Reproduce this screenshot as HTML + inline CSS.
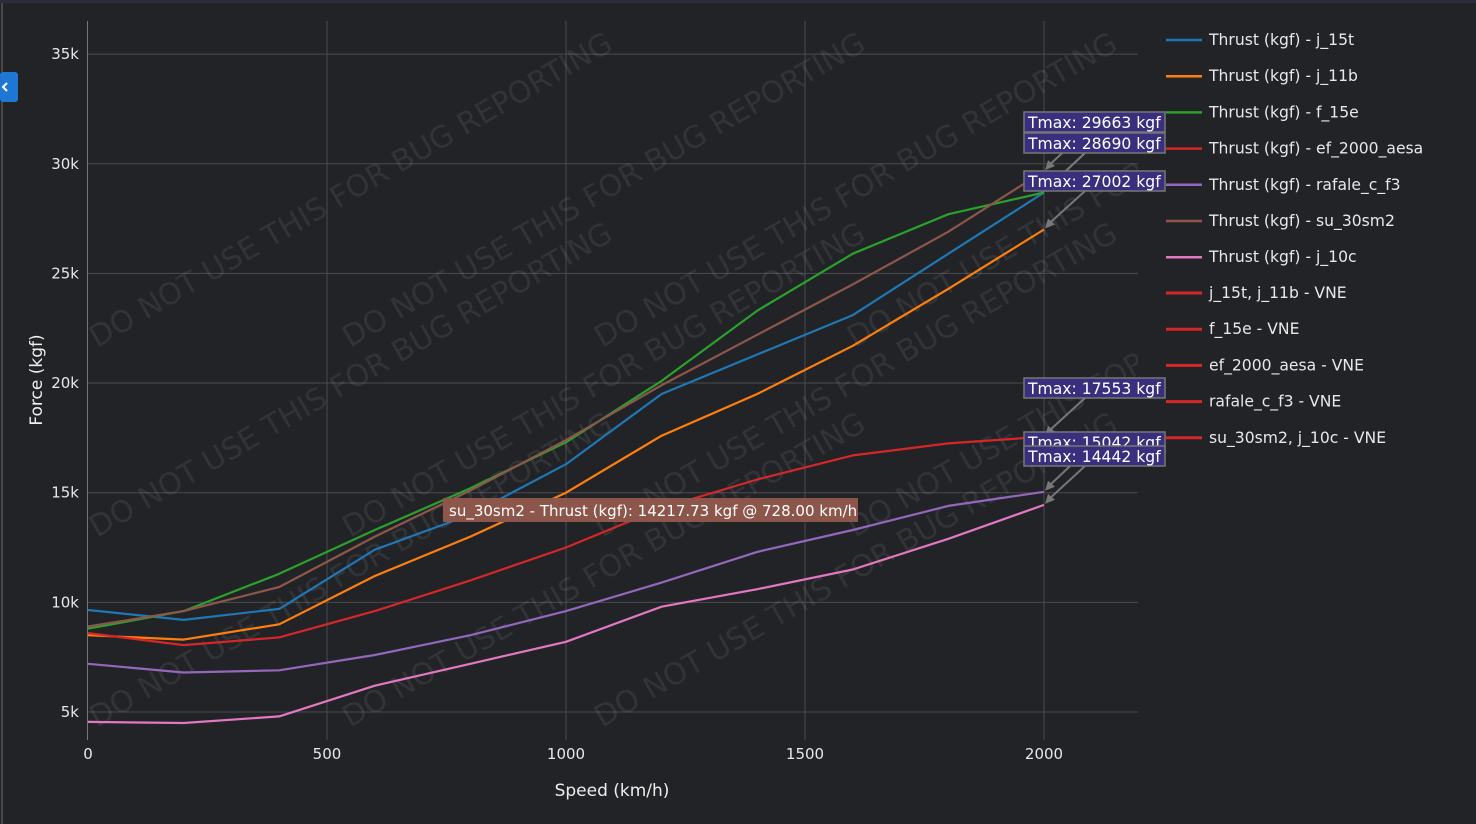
<!DOCTYPE html>
<html><head><meta charset="utf-8"><style>
html,body{margin:0;padding:0;background:#222327;width:1476px;height:824px;overflow:hidden}
svg{display:block}
text{font-family:"DejaVu Sans","Liberation Sans",sans-serif}
</style></head><body>
<svg id="s" width="1476" height="824" xmlns="http://www.w3.org/2000/svg">
<defs><clipPath id="cp"><rect x="88" y="21" width="1050" height="719"/></clipPath></defs>
<rect width="1476" height="824" fill="#222327"/>
<rect width="1476" height="3" fill="#2b2e38"/>
<line x1="2" y1="3" x2="2" y2="824" stroke="#555" stroke-width="1.5"/>
<g id="grid" stroke="#4a4b4f" stroke-width="1"></g>
<g id="wm" fill="rgba(255,255,255,0.075)" font-size="30" clip-path="url(#cp)"></g>
<line x1="87.5" y1="21" x2="87.5" y2="740" stroke="#777" stroke-width="1"/>
<g id="yt" fill="#e8e8e8" font-size="15" text-anchor="end"></g>
<g id="xt" fill="#e8e8e8" font-size="15" text-anchor="middle"></g>
<text x="612" y="796" fill="#eee" font-size="17" text-anchor="middle">Speed (km/h)</text>
<text transform="translate(42,380) rotate(-90)" fill="#eee" font-size="17" text-anchor="middle">Force (kgf)</text>
<g id="lines" fill="none" stroke-width="2.2" stroke-linejoin="round"></g>
<g id="ann"></g>
<rect x="443" y="498" width="415" height="24" fill="#8c564b"/>
<text x="449" y="516" fill="#fff" font-size="15" font-family="Liberation Sans">su_30sm2 - Thrust (kgf): 14217.73 kgf @ 728.00 km/h</text>
<g id="leg" font-size="15.6" fill="#e8e8e8"></g>
<rect x="0" y="72" width="18" height="30" rx="3" fill="#1f77d4"/>
<path d="M7 83 L3 87 L7 91" stroke="#fff" stroke-width="2" fill="none"/>
</svg>
<script>
var NS="http://www.w3.org/2000/svg";
function X(v){return 88+v*0.478}
function Y(v){return 712-(v-5000)*0.02193}
function el(p,t,a,txt){var e=document.createElementNS(NS,t);for(var k in a)e.setAttribute(k,a[k]);if(txt!=null)e.textContent=txt;document.getElementById(p).appendChild(e);return e}
[500,1000,1500,2000].forEach(function(v){el("grid","line",{x1:X(v),x2:X(v),y1:21,y2:740})});
[5,10,15,20,25,30,35].forEach(function(v){el("grid","line",{x1:88,x2:1138,y1:Y(v*1000),y2:Y(v*1000)});el("yt","text",{x:79,y:Y(v*1000)+5},v+"k")});
[0,500,1000,1500,2000].forEach(function(v){el("xt","text",{x:X(v),y:759},v)});
var rows=[348,538,728];var cols=[97,350,602,855];
rows.forEach(function(r,ri){cols.forEach(function(c,ci){if(ri==2&&ci==3)return;el("wm","text",{transform:"translate("+c+","+r+") rotate(-30)"},"DO NOT USE THIS FOR BUG REPORTING")})});
var S=[["#1f77b4","j_15t",[9650,9200,9700,12400,14000,16300,19500,21300,23100,25900,28690]],
["#ff7f0e","j_11b",[8500,8300,9000,11200,13000,15000,17600,19500,21700,24300,27002]],
["#2ca02c","f_15e",[8800,9600,11300,13300,15200,17300,20100,23300,25900,27700,28690]],
["#d62728","ef_2000_aesa",[8600,8050,8400,9600,11000,12500,14300,15600,16700,17250,17553]],
["#9467bd","rafale_c_f3",[7200,6800,6900,7600,8500,9600,10900,12300,13300,14400,15042]],
["#8c564b","su_30sm2",[8900,9600,10700,13000,15100,17400,19900,22200,24500,26900,29663]],
["#e377c2","j_10c",[4550,4500,4800,6200,7200,8200,9800,10600,11500,12900,14442]]];
S.forEach(function(s,i){var d="";s[2].forEach(function(v,j){d+=(j?"L":"M")+X(j*200).toFixed(1)+" "+Y(v).toFixed(1)});el("lines","path",{d:d,stroke:s[0]});
el("leg","line",{x1:1166,x2:1202,y1:40+i*36.2,y2:40+i*36.2,stroke:s[0],"stroke-width":2.5});el("leg","text",{x:1209,y:45+i*36.2},"Thrust (kgf) - "+s[1])});
["j_15t, j_11b - VNE","f_15e - VNE","ef_2000_aesa - VNE","rafale_c_f3 - VNE","su_30sm2, j_10c - VNE"].forEach(function(t,i){var y=293+i*36.2;el("leg","line",{x1:1166,x2:1202,y1:y,y2:y,stroke:"#d62728","stroke-width":3});el("leg","text",{x:1209,y:y+5},t)});
var A=[[112,29663,"29663"],[133,28690,"28690"],[133,28690,"28690"],[171,27002,"27002"],[378,17553,"17553"],[432,15042,"15042"],[446,14442,"14442"]];
A.forEach(function(a){var py=Y(a[1]);el("ann","line",{x1:1085,y1:a[0]+20,x2:1047,y2:py-4,stroke:"#777","stroke-width":2});el("ann","path",{d:"M1045 "+(py-1)+" l3 -10 l7 6 z",fill:"#777"})});
A.forEach(function(a){if(a===A[2])return;el("ann","rect",{x:1024,y:a[0],width:141,height:20,fill:"#3a2f7e",stroke:"#777","stroke-width":1.5});el("ann","text",{x:1028,y:a[0]+16,fill:"#fff","font-size":15.6},"Tmax: "+a[2]+" kgf")});
</script>
</body></html>
